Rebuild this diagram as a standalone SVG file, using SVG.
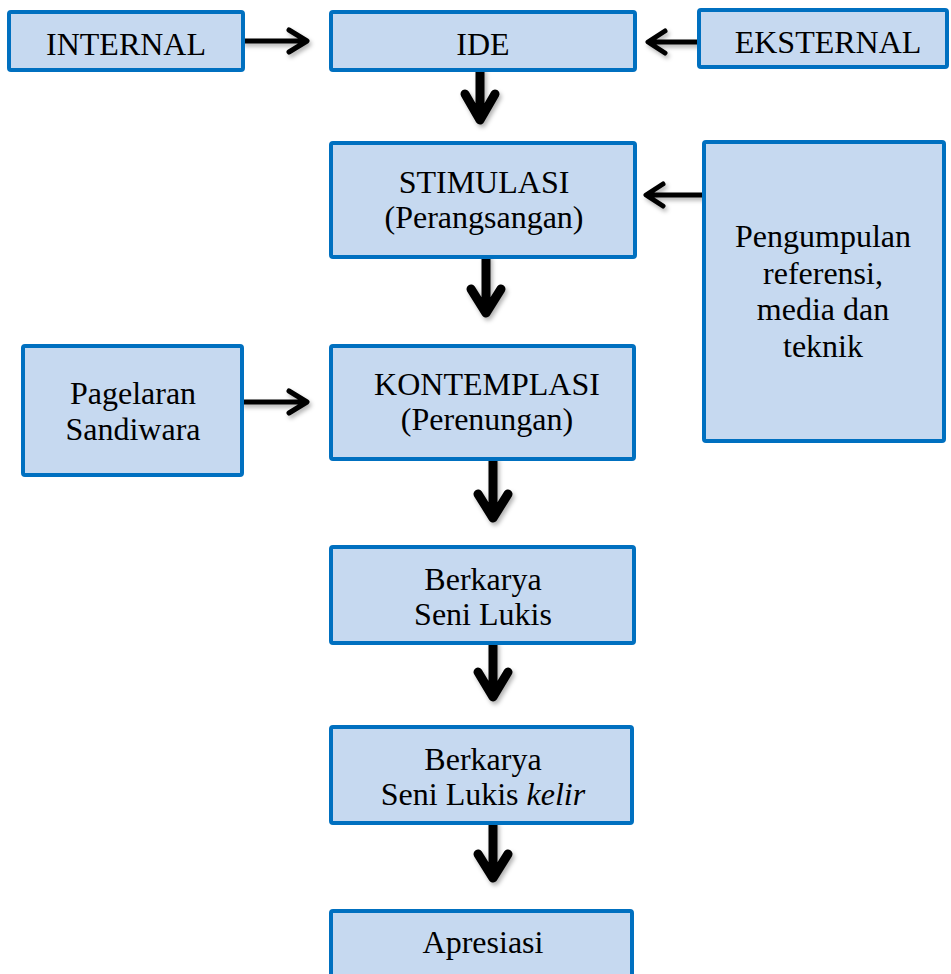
<svg xmlns="http://www.w3.org/2000/svg" width="951" height="974" viewBox="0 0 951 974">
<defs>
<style>
.box{fill:#C6D9F0;stroke:#0070C0;stroke-width:4}
.t{font-family:"Liberation Serif","Times New Roman",serif;font-size:32px;fill:#000;text-anchor:middle}
.sh{fill:none;stroke:#000;stroke-linecap:round;stroke-linejoin:round}
.v{stroke-width:9}
.h{stroke-width:5}
</style>
<filter id="ds" x="-50%" y="-50%" width="200%" height="200%">
<feDropShadow dx="2" dy="3" stdDeviation="2" flood-color="#000" flood-opacity="0.3"/>
</filter>
</defs>
<rect width="951" height="974" fill="#fff"/>
<g id="connectors" filter="url(#ds)">
<path class="sh h" d="M244,41 H306 M289,30 L307,41 L289,52"/>
<path class="sh h" d="M698,42 H649 M665,31 L648,42 L665,53"/>
<path class="sh h" d="M703,195 H647 M663,184 L646,195 L663,206"/>
<path class="sh h" d="M243,402 H306 M289,391 L307,402 L289,413"/>
<path class="sh v" d="M480,71 V119 M465,94 L480,120 L495,94"/>
<path class="sh v" d="M486,258 V312 M471,289 L486,313 L501,289"/>
<path class="sh v" d="M493,460 V517 M478,494 L493,518 L508,494"/>
<path class="sh v" d="M493,644 V696 M478,672 L493,697 L508,672"/>
<path class="sh v" d="M493,824 V877 M478,854 L493,878 L508,854"/>
</g>
<g id="internal"><rect class="box" x="9" y="12" width="234" height="58" rx="2"/><text class="t" x="126" y="55">INTERNAL</text></g>
<g id="ide"><rect class="box" x="331" y="12" width="304" height="58" rx="2"/><text class="t" x="483" y="55">IDE</text></g>
<g id="eksternal"><rect class="box" x="699" y="10" width="248" height="57" rx="2"/><text class="t" x="828" y="53">EKSTERNAL</text></g>
<g id="stimulasi"><rect class="box" x="331" y="143" width="304" height="114" rx="2"/><text class="t" x="484" y="193">STIMULASI</text><text class="t" x="484" y="228">(Perangsangan)</text></g>
<g id="pengumpulan"><rect class="box" x="704" y="142" width="240" height="299" rx="2"/><text class="t" x="823" y="247">Pengumpulan</text><text class="t" x="823" y="284">referensi,</text><text class="t" x="823" y="320">media dan</text><text class="t" x="823" y="357">teknik</text></g>
<g id="pagelaran"><rect class="box" x="23" y="346" width="219" height="129" rx="2"/><text class="t" x="133" y="404">Pagelaran</text><text class="t" x="133" y="440">Sandiwara</text></g>
<g id="kontemplasi"><rect class="box" x="331" y="346" width="303" height="113" rx="2"/><text class="t" x="487" y="395">KONTEMPLASI</text><text class="t" x="487" y="430">(Perenungan)</text></g>
<g id="seni-lukis"><rect class="box" x="331" y="547" width="303" height="96" rx="2"/><text class="t" x="483" y="590">Berkarya</text><text class="t" x="483" y="625">Seni Lukis</text></g>
<g id="seni-lukis-kelir"><rect class="box" x="331" y="727" width="301" height="96" rx="2"/><text class="t" x="483" y="770">Berkarya</text><text class="t" x="483" y="805">Seni Lukis <tspan font-style="italic">kelir</tspan></text></g>
<g id="apresiasi"><rect class="box" x="331" y="911" width="301" height="100" rx="2"/><text class="t" x="483" y="953">Apresiasi</text></g>
</svg>
